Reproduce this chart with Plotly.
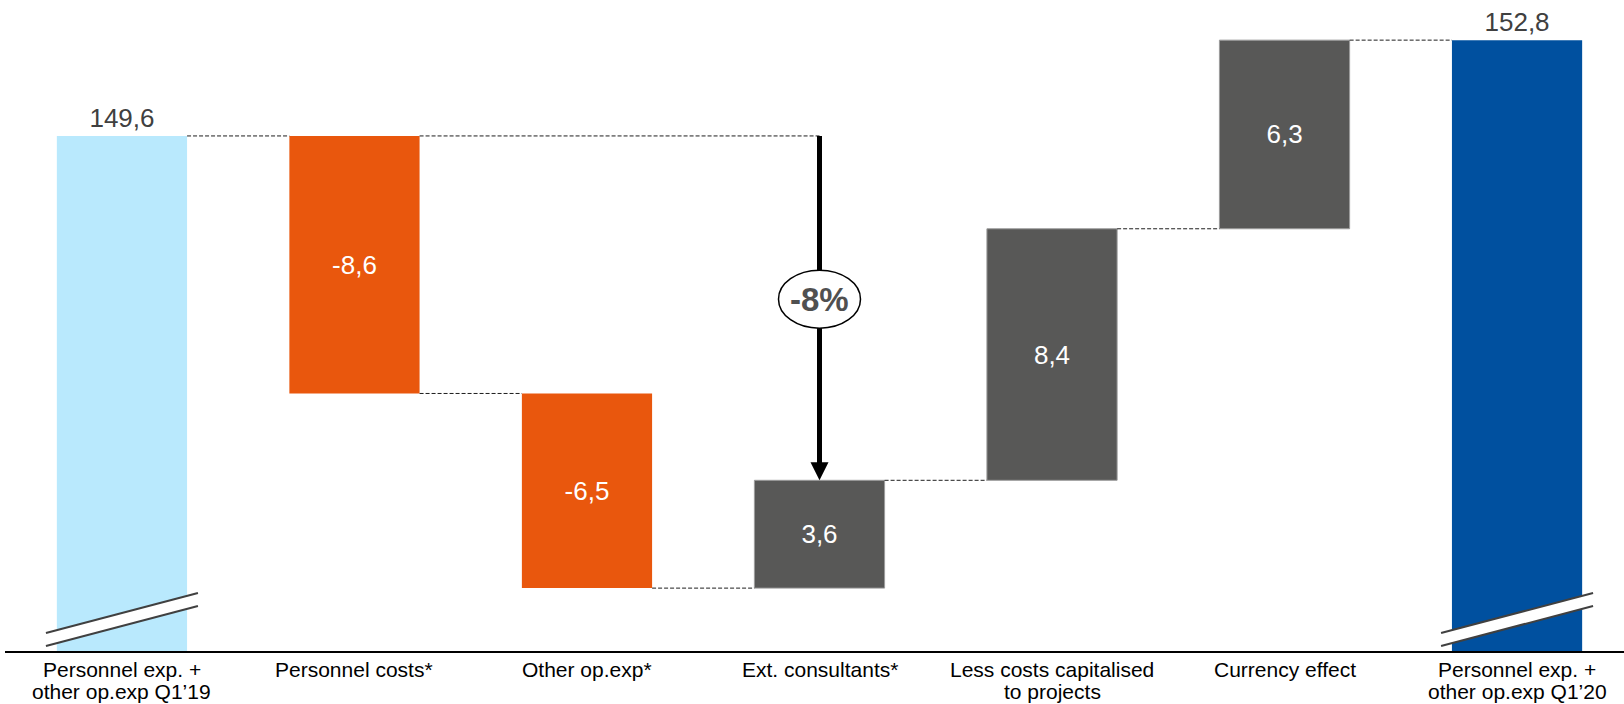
import plotly.graph_objects as go

# ---- data -------------------------------------------------------------
categories = [
    "Personnel exp. +<br>other op.exp Q1’19",
    "Personnel costs*",
    "Other op.exp*",
    "Ext. consultants*",
    "Less costs capitalised<br>to projects",
    "Currency effect",
    "Personnel exp. +<br>other op.exp Q1’20",
]
start_value = 149.6
changes = [-8.6, -6.5, 3.6, 8.4, 6.3]
end_value = 152.8

# ---- styling ----------------------------------------------------------
FONT = "Arial, Liberation Sans, sans-serif"
C_START = "#B9E9FD"
C_END = "#00509F"
C_DOWN = "#E9570D"
C_UP = "#585857"
C_LABEL = "#404040"

Y_MIN, Y_MAX = 132.4, 154.14       # broken value axis
X_MIN, X_MAX = -0.503, 6.46
BAR_W = 0.56
PLOT_H = 651                         # plot area height in px
PX_PER_UNIT = PLOT_H / (Y_MAX - Y_MIN)


def fmt(v):
    return f"{v:.1f}".replace(".", ",")


# ---- waterfall geometry ----------------------------------------------
x_pos = list(range(len(categories)))
bar_y = [start_value]
bar_base = [0]
levels = [start_value]               # running total after each bar
running = start_value
for c in changes:
    bar_base.append(running)
    bar_y.append(c)
    running = round(running + c, 1)
    levels.append(running)
bar_y.append(end_value)
bar_base.append(0)
levels.append(end_value)

colors = [C_START] + [C_DOWN if c < 0 else C_UP for c in changes] + [C_END]
line_w = [0] + [0 if c < 0 else 1 for c in changes] + [0]
text_pos = ["outside"] + ["inside"] * len(changes) + ["outside"]
texts = [fmt(v) for v in bar_y]

fig = go.Figure()

fig.add_trace(go.Bar(
    x=x_pos, y=bar_y, base=bar_base, width=BAR_W,
    marker=dict(color=colors, line=dict(color="#9C9C9C", width=line_w)),
    text=texts, textposition=text_pos, insidetextanchor="middle",
    insidetextfont=dict(family=FONT, size=26, color="white"),
    outsidetextfont=dict(family=FONT, size=26, color=C_LABEL),
    constraintext="none", cliponaxis=False, hoverinfo="skip",
))

# dashed connectors between consecutive bars
cx, cy = [], []
for i in range(len(categories) - 1):
    cx += [x_pos[i] + BAR_W / 2, x_pos[i + 1] - BAR_W / 2, None]
    cy += [levels[i], levels[i], None]
# reference line from the starting level to the arrow
arrow_x = 3
cx += [x_pos[1] + BAR_W / 2, arrow_x, None]
cy += [start_value, start_value, None]
fig.add_trace(go.Scatter(
    x=cx, y=cy, mode="lines",
    line=dict(color="#1E1E1E", width=1, dash="4px,2px"),
    hoverinfo="skip",
))

shapes = []

# axis-break markers on the two total bars
for i in (0, len(categories) - 1):
    common = dict(xref="x", yref="y", xsizemode="pixel", ysizemode="pixel",
                  xanchor=x_pos[i], yanchor=Y_MIN, layer="above")
    shapes.append(dict(type="path", path="M-76,5 L76,45 L76,58 L-76,18 Z",
                       fillcolor="white", line=dict(width=0), **common))
    shapes.append(dict(type="path", path="M-76,5 L76,45",
                       line=dict(color="#404040", width=2), **common))
    shapes.append(dict(type="path", path="M-76,18 L76,58",
                       line=dict(color="#404040", width=2), **common))

# change arrow: from the starting level down to the level after consultants
arrow_to = levels[3]
head = 18
shapes.append(dict(type="line", xref="x", yref="y",
                   x0=arrow_x, x1=arrow_x,
                   y0=start_value, y1=arrow_to + (head - 2) / PX_PER_UNIT,
                   line=dict(color="black", width=5), layer="above"))
shapes.append(dict(type="path", xref="x", yref="y",
                   xsizemode="pixel", ysizemode="pixel",
                   xanchor=arrow_x, yanchor=arrow_to,
                   path=f"M-9,{head} L9,{head} L0,0 Z",
                   fillcolor="black", line=dict(width=0), layer="above"))
mid = (start_value + arrow_to) / 2
shapes.append(dict(type="circle", xref="x", yref="y",
                   xsizemode="pixel", ysizemode="pixel",
                   xanchor=arrow_x, yanchor=mid,
                   x0=-41, x1=41, y0=-20, y1=38,
                   fillcolor="white", line=dict(color="black", width=1.5),
                   layer="above"))

pct = round(100 * (arrow_to - start_value) / start_value)
annotations = [dict(
    x=arrow_x, y=mid, xref="x", yref="y", yshift=9,
    text=f"<b>{pct}%</b>", showarrow=False,
    font=dict(family=FONT, size=33, color="#505050"),
)]

# category labels under the axis
for i, cat in enumerate(categories):
    for j, line in enumerate(cat.split("<br>")):
        annotations.append(dict(
            x=x_pos[i], y=0, xref="x", yref="paper",
            yanchor="top", yshift=-5 - 22 * j,
            text=line, showarrow=False,
            font=dict(family=FONT, size=21, color="black"),
        ))

fig.update_layout(
    width=1624, height=704,
    margin=dict(l=5, r=0, t=0, b=53),
    paper_bgcolor="white", plot_bgcolor="white",
    showlegend=False,
    shapes=shapes, annotations=annotations,
    xaxis=dict(range=[X_MIN, X_MAX], showticklabels=False, ticks="",
               showgrid=False, zeroline=False, showline=True,
               linecolor="black", linewidth=2, fixedrange=True),
    yaxis=dict(range=[Y_MIN, Y_MAX], visible=False, showgrid=False,
               zeroline=False, fixedrange=True),
)

fig.write_html("out.html")
